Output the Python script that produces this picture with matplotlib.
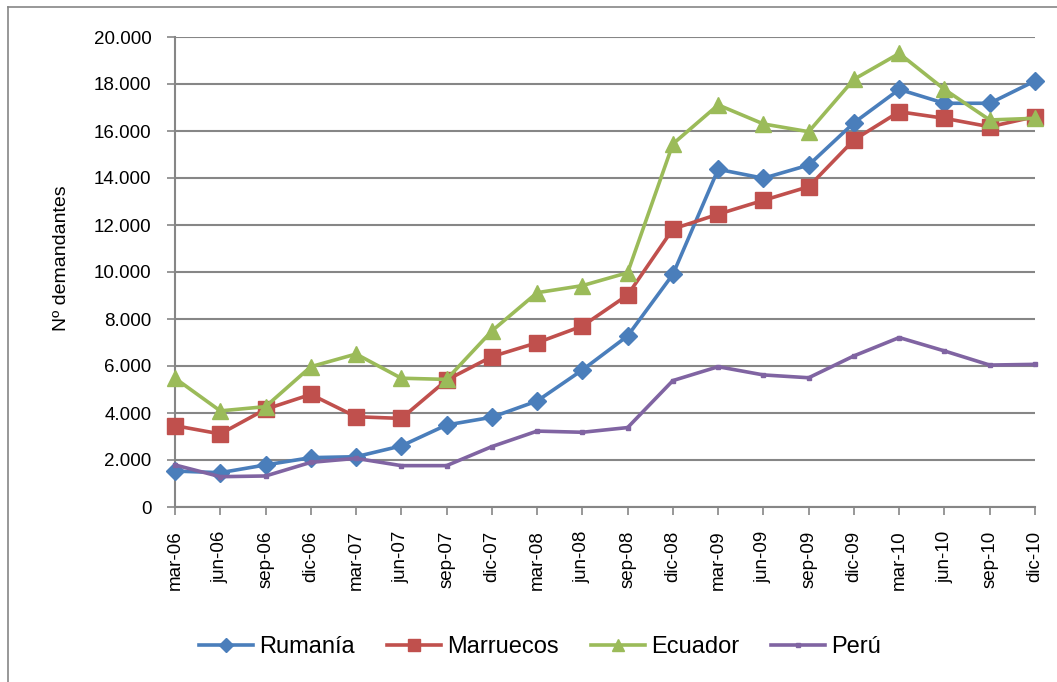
import numpy as np
import matplotlib
matplotlib.use("Agg")
import matplotlib.pyplot as plt
from matplotlib.lines import Line2D

# quarters
meses = ["mar-06", "jun-06", "sep-06", "dic-06", "mar-07", "jun-07", "sep-07", "dic-07",
         "mar-08", "jun-08", "sep-08", "dic-08", "mar-09", "jun-09", "sep-09", "dic-09",
         "mar-10", "jun-10", "sep-10", "dic-10"]

rumania = [1530, 1460, 1790, 2100, 2140, 2600, 3490, 3820, 4510, 5830,
           7280, 9900, 14370, 13990, 14550, 16350, 17770, 17180, 17180, 18130]
marruecos = [3460, 3110, 4160, 4790, 3840, 3770, 5400, 6400, 6990, 7700,
             9020, 11830, 12460, 13050, 13630, 15620, 16820, 16540, 16180, 16610]
ecuador = [5480, 4090, 4270, 5970, 6510, 5480, 5430, 7490, 9120, 9420,
           9970, 15450, 17110, 16300, 15970, 18200, 19300, 17770, 16470, 16540]
peru = [1790, 1290, 1320, 1900, 2070, 1760, 1760, 2570, 3230, 3180,
        3380, 5380, 5970, 5620, 5500, 6430, 7210, 6640, 6040, 6070]

plt.rcParams['font.family'] = ['Liberation Sans', 'DejaVu Sans']

fig = plt.figure(figsize=(10.57, 6.82), dpi=100)
ax = fig.add_axes([175/1057, 1-507/682, (1035-175)/1057, (507-37)/682])

x = np.arange(len(meses))
ax.plot(x, rumania, color="#4A7EBB", lw=2.6, marker="D", ms=9, label="Rumanía", clip_on=False, zorder=3)
ax.plot(x, marruecos, color="#C0504D", lw=2.6, marker="s", ms=11, label="Marruecos", clip_on=False, zorder=3)
ax.plot(x, ecuador, color="#9BBB59", lw=2.6, marker="^", ms=12, label="Ecuador", clip_on=False, zorder=3)
ax.plot(x, peru, color="#8064A2", lw=2.6, marker="s", ms=3, label="Perú", clip_on=False, zorder=3)

ax.set_xlim(0, 19)
ax.set_ylim(0, 20000)
ax.set_yticks(np.arange(0, 20001, 2000))
ax.set_yticklabels([f"{v:,}".replace(",", ".") for v in range(0, 20001, 2000)], fontsize=13.5)
ax.set_xticks(x)
ax.set_xticklabels(meses, rotation=90, fontsize=13.5)
ax.tick_params(axis="both", direction="out", length=6, width=1.2, color="#868686", pad=11)

ax.grid(axis="y", color="#868686", lw=1.5)
ax.set_axisbelow(True)
for s in ["top", "right"]:
    ax.spines[s].set_visible(False)
for s in ["left", "bottom"]:
    ax.spines[s].set_color("#868686")
    ax.spines[s].set_linewidth(1.5)

fig.text(62/1057, 1-258/682, "Nº demandantes", rotation=90, ha="center", va="center", fontsize=14)

ax.legend(loc="center", bbox_to_anchor=((540-175)/860, (507-647)/470), ncol=4, frameon=False,
          fontsize=17, handlelength=2.3, columnspacing=1.35, handletextpad=0.25, markerscale=0.75)

# chart area border
fig.add_artist(Line2D([8/1057, 8/1057], [0, 1-7/682], color="#868686", lw=1.2))
fig.add_artist(Line2D([8/1057, 1], [1-7/682, 1-7/682], color="#868686", lw=1.2))

fig.savefig("out.png", dpi=100)
